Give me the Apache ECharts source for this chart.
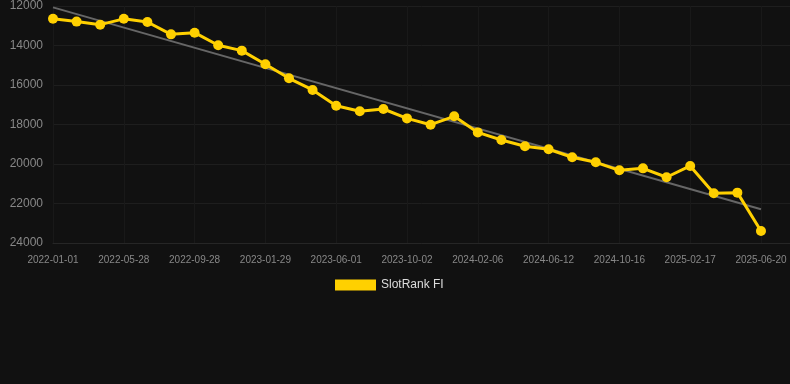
<!DOCTYPE html>
<html>
<head>
<meta charset="utf-8">
<script src="https://cdn.jsdelivr.net/npm/echarts@6/dist/echarts.min.js"></script>
<style>
html,body{margin:0;padding:0;background:#111111;}
#c{width:790px;height:384px;}
</style>
</head>
<body>
<div id="c"></div>
<script>
const dates = [
  '2022-01-01','2022-02-17','2022-04-06','2022-05-28','2022-07-08','2022-08-18',
  '2022-09-28','2022-11-08','2022-12-19','2023-01-29','2023-03-10','2023-04-21',
  '2023-06-01','2023-07-12','2023-08-22','2023-10-02','2023-11-13','2023-12-26',
  '2024-02-06','2024-03-18','2024-04-29','2024-06-12','2024-07-24','2024-09-04',
  '2024-10-16','2024-11-27','2025-01-07','2025-02-17','2025-03-30','2025-05-10',
  '2025-06-20'
];
const rankValues = [
  12650, 12790, 12945, 12650, 12810, 13435, 13350, 13990, 14260, 14950,
  15660, 16250, 17050, 17330, 17215, 17690, 18010, 17585, 18400, 18785,
  19105, 19255, 19660, 19915, 20320, 20220, 20670, 20100, 21480, 21450,
  23390
];
const trendStart = 12070;
const trendEnd = 22290;
const yTicks = [12000, 14000, 16000, 18000, 20000, 22000, 24000];

const rankData = rankValues.map((v, i) => [i, v]);
const trendData = [[0, trendStart], [dates.length - 1, trendEnd]];

const chart = echarts.init(document.getElementById('c'));
chart.setOption({
  backgroundColor: '#111111',
  animation: false,
  grid: { left: 53, right: 0, top: 6, bottom: 141 },
  legend: {
    data: ['SlotRank FI'],
    top: 274,
    left: 330,
    itemWidth: 41,
    itemHeight: 11,
    itemGap: 10,
    icon: 'rect',
    textStyle: { color: '#dddddd', fontSize: 12, fontFamily: 'Liberation Sans, Arial, sans-serif' }
  },
  xAxis: {
    type: 'value',
    min: 0,
    max: 31.23,
    interval: 3,
    axisLine: { show: true, lineStyle: { color: '#262626' } },
    axisTick: { show: false },
    axisLabel: {
      color: '#888888', fontSize: 10, margin: 12, showMaxLabel: false,
      fontFamily: 'Liberation Sans, Arial, sans-serif',
      formatter: v => dates[Math.round(v)] || ''
    },
    splitLine: { show: true, lineStyle: { color: '#191919', width: 1 } }
  },
  yAxis: {
    type: 'value',
    inverse: true,
    min: yTicks[0],
    max: yTicks[yTicks.length - 1],
    interval: 2000,
    axisLine: { show: false },
    axisTick: { show: false },
    axisLabel: {
      color: '#888888', fontSize: 12, margin: 10,
      fontFamily: 'Liberation Sans, Arial, sans-serif',
      formatter: v => String(v)
    },
    splitLine: { lineStyle: { color: '#1e1e1e', width: 1 } }
  },
  series: [
    {
      name: 'Trend',
      type: 'line',
      data: trendData,
      symbol: 'none',
      lineStyle: { color: '#666666', width: 2 },
      z: 1
    },
    {
      name: 'SlotRank FI',
      type: 'line',
      data: rankData,
      symbol: 'circle',
      symbolSize: 10,
      itemStyle: { color: '#FFD000' },
      lineStyle: { color: '#FFD000', width: 3 },
      z: 2
    }
  ]
});
</script>
</body>
</html>
